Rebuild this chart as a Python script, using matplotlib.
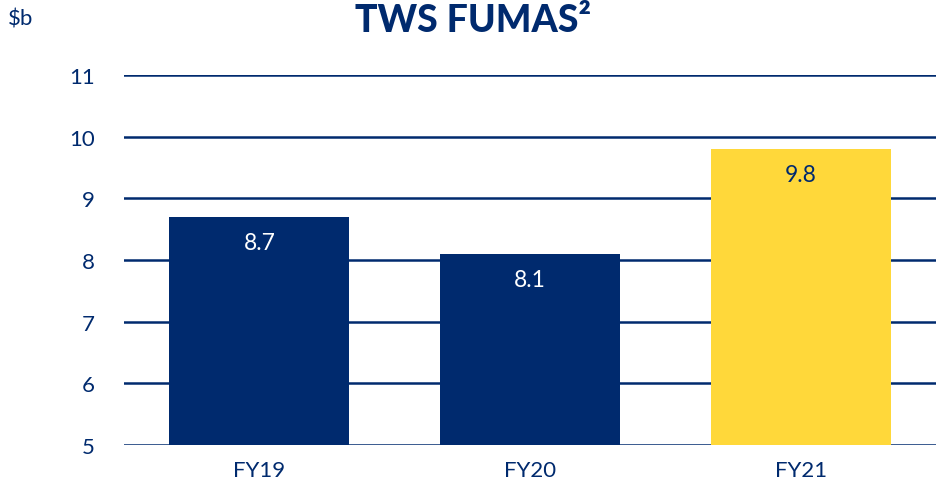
import matplotlib
matplotlib.use("Agg")
import matplotlib.pyplot as plt

years = ["FY19", "FY20", "FY21"]
fumas = [8.7, 8.1, 9.8]
bar_colors = ["#002A6E", "#002A6E", "#FFD83A"]
label_colors = ["white", "white", "#002A6E"]
yticks = [5, 6, 7, 8, 9, 10, 11]

navy = "#002A6E"
plt.rcParams["font.family"] = ["Lato", "DejaVu Sans"]

fig = plt.figure(figsize=(9.37, 4.89), dpi=100)
ax = fig.add_axes([0.1323, 0.0879, 0.8667, 0.7567])

ax.set_ylim(5, 11)
ax.set_xlim(-0.5, 2.5)
ax.set_yticks(yticks)
ax.yaxis.grid(True, color=navy, linewidth=1.8)
ax.set_axisbelow(True)

x = range(len(years))
bars = ax.bar(x, [v - 5 for v in fumas], bottom=5, width=0.665, color=bar_colors, zorder=3)
for xi, v, c in zip(x, fumas, label_colors):
    ax.text(xi, v - 0.42, f"{v}", ha="center", va="center", fontsize=16.5, color=c, zorder=4)

ax.set_xticks(list(x))
ax.set_xticklabels(years)
ax.tick_params(axis="both", length=0, labelsize=16, colors=navy)
ax.tick_params(axis="y", pad=21)
ax.tick_params(axis="x", pad=11)
for s in ax.spines.values():
    s.set_visible(False)

fig.text(473 / 937, 1 - 21 / 489, "TWS FUMAS²", ha="center", va="center",
         fontsize=27, fontweight="black", color=navy)
fig.text(8 / 937, 1 - 20 / 489, r"\$b", ha="left", va="center", fontsize=16, color=navy)

fig.savefig("out.png", dpi=100)
